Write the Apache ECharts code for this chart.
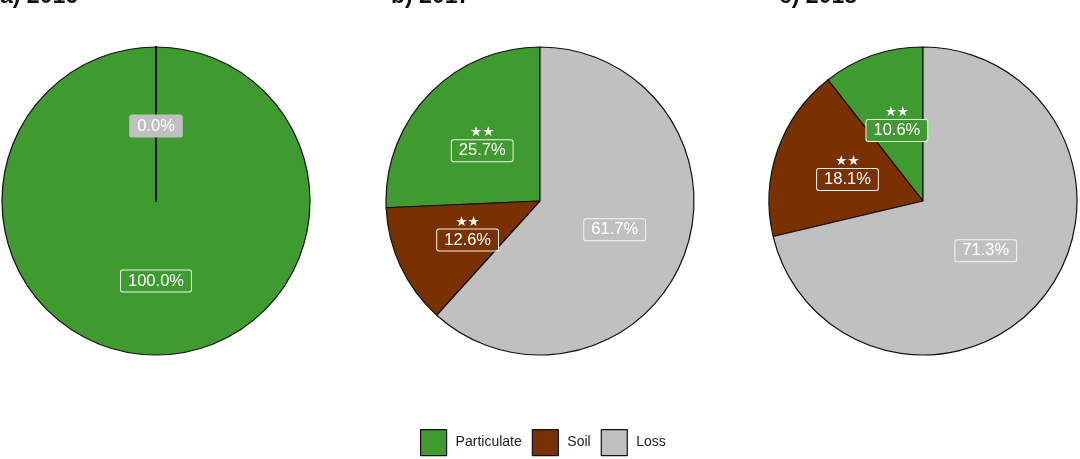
<!DOCTYPE html>
<html>
<head>
<meta charset="utf-8">
<script src="https://cdn.jsdelivr.net/npm/echarts@6/dist/echarts.min.js"></script>
<style>html,body{margin:0;padding:0;background:#fff}#c{width:1080px;height:459px}</style>
</head>
<body>
<div id="c"></div>
<script>
const categories = ['Particulate', 'Soil', 'Loss'];
const colors = ['#3f9a2f', '#7a3100', '#c0c0c0'];
const panelTitles = ['a) 2016', 'b) 2017', 'c) 2018'];
const values2016 = [100.0, 0.0, 0.0];
const values2017 = [25.7, 12.6, 61.7];
const values2018 = [10.6, 18.1, 71.3];
const sig2016 = ['', '', ''];
const sig2017 = ['★★', '★★', ''];
const sig2018 = ['★★', '★★', ''];

const panels = [
  {values: values2016, sig: sig2016, cx: 156, titleX: 0},
  {values: values2017, sig: sig2017, cx: 540, titleX: 391},
  {values: values2018, sig: sig2018, cx: 923, titleX: 779}
];
const FONT = 'Liberation Sans, Arial, sans-serif';

// a zero-value label is covered by a later zero-value label at the same spot
function hiddenUnder(vals, i) {
  if (vals[i] !== 0) return false;
  for (let k = i + 1; k < vals.length; k++) if (vals[k] === 0) return true;
  return false;
}

const series = panels.map((p) => ({
  type: 'pie',
  center: [p.cx, 201],
  radius: [0, 154],
  startAngle: 90,
  clockwise: false,
  avoidLabelOverlap: false,
  silent: true,
  animation: false,
  itemStyle: {borderColor: '#111', borderWidth: 1.2},
  labelLine: {show: false},
  data: categories.map((name, i) => ({
    name: name,
    value: p.values[i],
    itemStyle: p.values[i] === 0 ? {color: colors[i], borderWidth: 1.8} : {color: colors[i]},
    label: {
      show: !hiddenUnder(p.values, i),
      position: 'inside',
      offset: p.sig[i] ? [0, -4] : (p.values[i] === 0 ? [0, 5] : [0, 0]),
      formatter: (prm) => {
        const txt = prm.value.toFixed(1) + '%';
        return p.sig[i] ? '{s|' + p.sig[i] + '}\n{b|' + txt + '}' : '{b|' + txt + '}';
      },
      rich: {
        s: {color: '#ffffff', fontSize: 13.5, fontFamily: 'DejaVu Sans', lineHeight: 18, align: 'center'},
        b: {
          color: '#ffffff', fontSize: 16.5, fontFamily: FONT, lineHeight: 18,
          backgroundColor: colors[i], borderColor: p.values[i] === 0 ? colors[i] : '#f4f4f4', borderWidth: 1,
          borderRadius: 2, padding: [2, 7, 2, 7], align: 'center'
        }
      }
    }
  }))
}));

const chart = echarts.init(document.getElementById('c'), null, {renderer: 'canvas'});
chart.setOption({
  backgroundColor: '#ffffff',
  animation: false,
  title: panels.map((p, i) => ({
    text: panelTitles[i],
    left: p.titleX,
    top: -15,
    padding: 0,
    textStyle: {fontSize: 23, fontWeight: 'bold', color: '#111', fontFamily: FONT}
  })),
  legend: {
    data: categories,
    top: 429,
    left: 420,
    padding: 0,
    itemWidth: 26,
    itemHeight: 26,
    itemGap: 10,
    icon: 'rect',
    itemStyle: {borderColor: '#111', borderWidth: 1.2},
    textStyle: {fontSize: 14, color: '#222', fontFamily: FONT, padding: [0, 0, 0, 4]}
  },
  series: series
});
</script>
</body>
</html>
